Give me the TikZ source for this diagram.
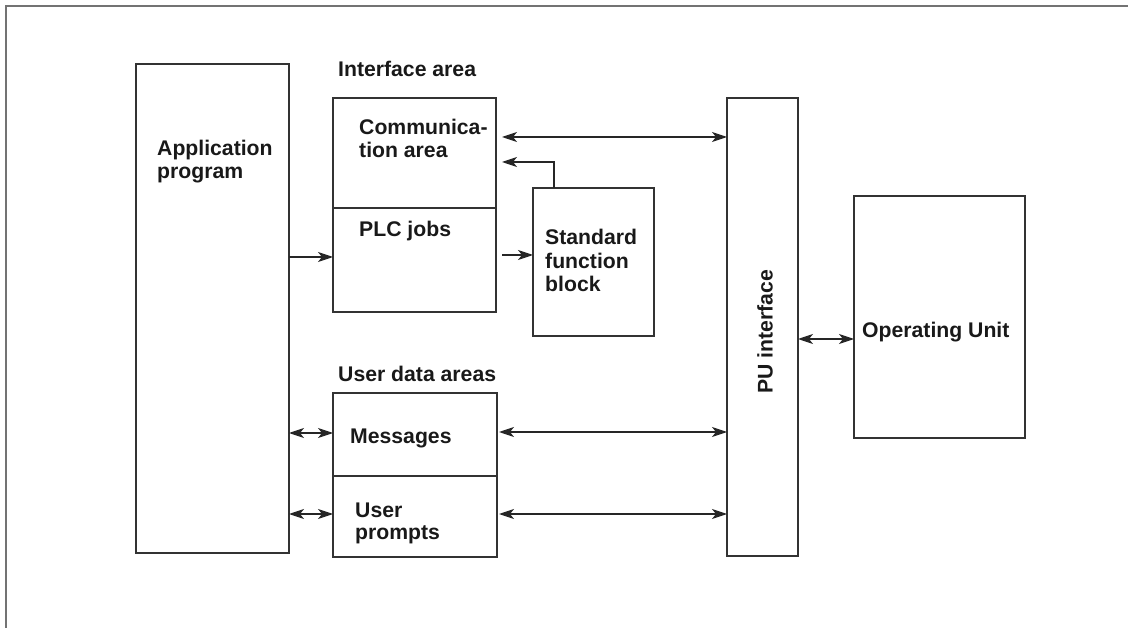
\documentclass[tikz,border=0pt]{standalone}
\usepackage{fontspec}
\setmainfont{Liberation Sans}
\usetikzlibrary{arrows.meta,calc}
\newcommand{\mlines}[1]{\begin{tabular}[t]{@{}l@{}}#1\end{tabular}}
\begin{document}
\begin{tikzpicture}[x=1pt,y=-1pt,
  box/.style={draw=black!80, line width=1.2pt, inner sep=0pt, outer sep=0pt, anchor=north west},
  lbl/.style={anchor=base west, inner sep=0pt, text=black!90, font=\fontsize{21.2}{22.5}\selectfont\bfseries},
  tip/.tip={Stealth[length=15pt,width=10pt,inset=4pt]},
  arr/.style={draw=black!85, line width=1.1pt, -tip},
  darr/.style={draw=black!85, line width=1.1pt, tip-tip}]
\useasboundingbox (0,0) rectangle (1128,628);
% outer frame
\draw[black!55, line width=2pt] (6,628) -- (6,6) -- (1128,6);

% boxes
\node[box, minimum width=153pt, minimum height=489pt] (app) at (136,64) {};
\node[box, minimum width=163pt, minimum height=110pt] (comm) at (333,98) {};
\node[box, minimum width=163pt, minimum height=104pt] (plc) at (333,208) {};
\node[box, minimum width=121pt, minimum height=148pt] (sfb) at (533,188) {};
\node[box, minimum width=71pt, minimum height=458pt] (pu) at (727,98) {};
\node[box, minimum width=171pt, minimum height=242pt] (ou) at (854,196) {};
\node[box, minimum width=164pt, minimum height=83pt] (msg) at (333,393) {};
\node[box, minimum width=164pt, minimum height=81pt] (prm) at (333,476) {};

% labels
\node[lbl] (lifa) at (338,77) {Interface area};
\node[lbl] (luda) at (338,382) {User data areas};
\node[lbl] (lapp) at (157,156) {\mlines{Application\\program}};
\node[lbl] (lcomm) at (359,135) {\mlines{Communica-\\tion area}};
\node[lbl] (lplc) at (359,237) {PLC jobs};
\node[lbl, font=\fontsize{21.2}{23.5}\selectfont\bfseries] (lsfb) at (545,245) {\mlines{Standard\\function\\block}};
\node[lbl] (lmsg) at (350,443) {Messages};
\node[lbl] (lprm) at (355,517) {\mlines{User\\prompts}};
\node[lbl, anchor=center, rotate=90] (lpu) at (765,332) {PU interface};
\node[lbl] (lou) at (862,338) {Operating Unit};

% connectors
\draw[arr] (app.east |- 0,257) -- (plc.west |- 0,257);
\draw[darr] ([xshift=6pt]comm.east |- 0,137) -- (pu.west |- 0,137);
\draw[arr] ([xshift=-39.5pt]sfb.north) |- ([xshift=6pt]comm.east |- 0,162);
\draw[arr] ([xshift=6pt]plc.east |- 0,255) -- (sfb.west |- 0,255);
\draw[darr] (pu.east |- 0,339) -- (ou.west |- 0,339);
\draw[darr] (app.east |- 0,433) -- (msg.west |- 0,433);
\draw[darr] (app.east |- 0,514) -- (prm.west |- 0,514);
\draw[darr] ([xshift=2pt]msg.east |- 0,432) -- (pu.west |- 0,432);
\draw[darr] ([xshift=2pt]prm.east |- 0,514) -- (pu.west |- 0,514);
\end{tikzpicture}
\end{document}
